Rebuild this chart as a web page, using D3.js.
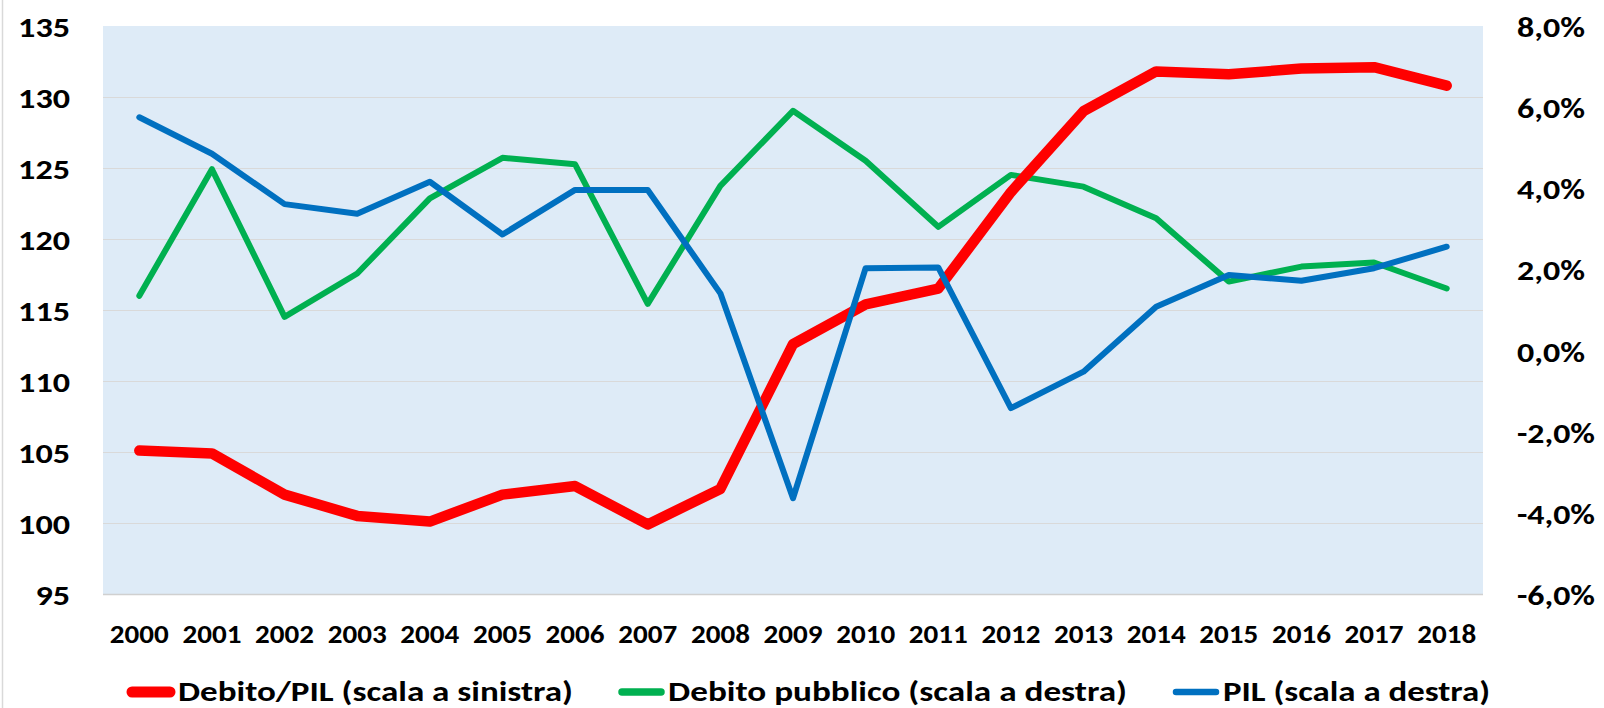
<!DOCTYPE html>
<html>
<head>
<meta charset="utf-8">
<script src="https://cdn.jsdelivr.net/npm/d3@7"></script>
<style>
  html, body { margin: 0; padding: 0; background: #ffffff; }
  svg { display: block; }
  text { font-family: Carlito, "Liberation Sans Narrow", "Liberation Sans", Arial, sans-serif; font-weight: bold; fill: #000; }
</style>
</head>
<body>
<svg id="chart" width="1604" height="708"></svg>
<script>
// ---- data ----
const years = [2000, 2001, 2002, 2003, 2004, 2005, 2006, 2007, 2008, 2009,
               2010, 2011, 2012, 2013, 2014, 2015, 2016, 2017, 2018];
const debitoPil = [105.1, 104.9, 102.0, 100.5, 100.1, 102.0, 102.6, 99.9, 102.4, 112.6,
                   115.4, 116.5, 123.3, 129.0, 131.8, 131.6, 132.0, 132.1, 130.8];
const debitoPubblico = [1.35, 4.47, 0.83, 1.90, 3.75, 4.75, 4.59, 1.15, 4.06, 5.91,
                        4.68, 3.05, 4.33, 4.04, 3.26, 1.70, 2.07, 2.17, 1.53];
const pil = [5.75, 4.85, 3.61, 3.37, 4.16, 2.86, 3.96, 3.96, 1.41, -3.64,
             2.03, 2.05, -1.42, -0.52, 1.08, 1.86, 1.72, 2.03, 2.56];
const leftTicks = [95, 100, 105, 110, 115, 120, 125, 130, 135];
const rightTicks = [-6, -4, -2, 0, 2, 4, 6, 8];
const seriesNames = ["Debito/PIL (scala a sinistra)", "Debito pubblico (scala a destra)", "PIL (scala a destra)"];

// ---- layout ----
const svg = d3.select("#chart");
const plot = { left: 103, right: 1483, top: 26, bottom: 594 };
const colors = { red: "#FF0000", green: "#00B050", blue: "#0070C0" };

const x = d3.scaleBand().domain(years).range([plot.left, plot.right]);
const cx = d => x(d) + x.bandwidth() / 2;
const yL = d3.scaleLinear().domain([95, 135]).range([plot.bottom, plot.top]);
const yR = d3.scaleLinear().domain([-6, 8]).range([plot.bottom, plot.top]);

// outer chart border (left edge only visible)
svg.append("line").attr("x1", 2.5).attr("x2", 2.5).attr("y1", 0).attr("y2", 708)
  .attr("stroke", "#D9D9D9").attr("stroke-width", 1.5);

// plot background
svg.append("rect").attr("x", plot.left).attr("y", plot.top)
  .attr("width", plot.right - plot.left).attr("height", plot.bottom - plot.top)
  .attr("fill", "#DEEBF7");

// gridlines
svg.append("g").selectAll("line").data(leftTicks.filter(t => t < 135)).join("line")
  .attr("x1", plot.left).attr("x2", plot.right)
  .attr("y1", d => Math.round(yL(d)) + 0.5).attr("y2", d => Math.round(yL(d)) + 0.5)
  .attr("stroke", d => d === 95 ? "#D0D0D0" : "#D9D9D9").attr("stroke-width", d => d === 95 ? 1.5 : 1);

// left axis
const gL = svg.append("g").attr("transform", "translate(70,0)")
  .call(d3.axisLeft(yL).tickValues(leftTicks).tickSize(0).tickPadding(0).tickFormat(d3.format("d")));
gL.select(".domain").remove();
gL.selectAll("text").attr("font-size", 29).attr("dy", "0.36em")
  .attr("textLength", d => String(d).length * 17.3).attr("lengthAdjust", "spacingAndGlyphs");

// right axis
const fmtR = d => d3.format(".1f")(d).replace(".", ",").replace("\u2212", "-") + "%";
const gR = svg.append("g").attr("transform", "translate(1517,0)")
  .call(d3.axisRight(yR).tickValues(rightTicks).tickSize(0).tickPadding(0).tickFormat(fmtR));
gR.select(".domain").remove();
gR.selectAll("text").attr("font-size", 29).attr("dy", "0.36em")
  .attr("textLength", d => d < 0 ? 78 : 68).attr("lengthAdjust", "spacingAndGlyphs");

// bottom axis
const gX = svg.append("g").attr("transform", "translate(0,643)")
  .call(d3.axisBottom(x).tickSize(0).tickPadding(0));
gX.select(".domain").remove();
gX.selectAll("text").attr("font-size", 27).attr("dy", "0").attr("y", 0)
  .attr("textLength", 59).attr("lengthAdjust", "spacingAndGlyphs");

// lines
const lineL = d3.line().x((d, i) => cx(years[i])).y(d => yL(d));
const lineR = d3.line().x((d, i) => cx(years[i])).y(d => yR(d));

svg.append("path").datum(debitoPubblico).attr("d", lineR)
  .attr("fill", "none").attr("stroke", colors.green).attr("stroke-width", 6)
  .attr("stroke-linejoin", "round").attr("stroke-linecap", "round");
svg.append("path").datum(debitoPil).attr("d", lineL)
  .attr("fill", "none").attr("stroke", colors.red).attr("stroke-width", 10.5)
  .attr("stroke-linejoin", "round").attr("stroke-linecap", "round");
svg.append("path").datum(pil).attr("d", lineR)
  .attr("fill", "none").attr("stroke", colors.blue).attr("stroke-width", 6)
  .attr("stroke-linejoin", "round").attr("stroke-linecap", "round");

// legend
const legend = [
  { name: seriesNames[0], color: colors.red, w: 11, x1: 132, x2: 170, tx: 178, tl: 395 },
  { name: seriesNames[1], color: colors.green, w: 7.5, x1: 622, x2: 661, tx: 668, tl: 459 },
  { name: seriesNames[2], color: colors.blue, w: 6.5, x1: 1176, x2: 1216, tx: 1223, tl: 267 }
];
const lg = svg.append("g");
legend.forEach(l => {
  lg.append("line").attr("x1", l.x1).attr("x2", l.x2).attr("y1", 692).attr("y2", 692)
    .attr("stroke", l.color).attr("stroke-width", l.w).attr("stroke-linecap", "round");
  lg.append("text").attr("x", l.tx).attr("y", 701).attr("font-size", 29)
    .attr("textLength", l.tl).attr("lengthAdjust", "spacingAndGlyphs").text(l.name);
});
</script>
</body>
</html>
